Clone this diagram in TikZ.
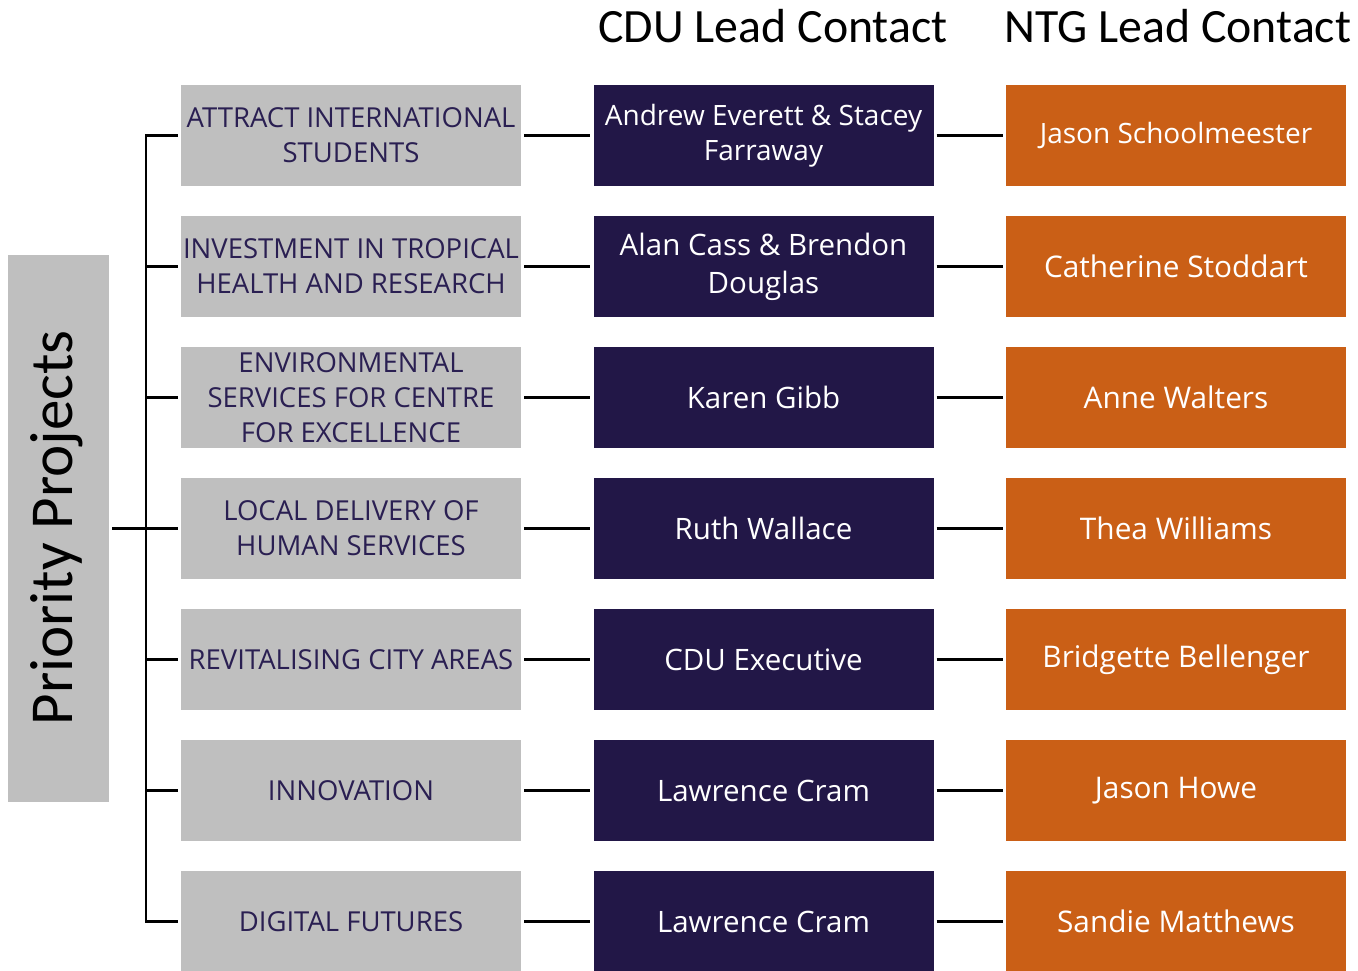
\documentclass[tikz,border=0pt]{standalone}
\usepackage{fontspec}
\setmainfont{Open Sans}
\newfontfamily\hdfont{Carlito}
\definecolor{boxgray}{HTML}{BFBFBF}
\definecolor{navy}{HTML}{221747}
\definecolor{navytext}{HTML}{2A1F52}
\definecolor{rust}{HTML}{CA5F16}
\tikzset{
  base/.style={rectangle, minimum width=340pt, minimum height=101pt, inner sep=0pt, align=center},
  graybox/.style={base, fill=boxgray, text=navytext, font=\fontsize{27.5}{35}\selectfont},
  navybox/.style={base, fill=navy, text=white, font=\fontsize{29.5}{38}\selectfont},
  rustbox/.style={base, fill=rust, text=white, font=\fontsize{29.8}{38}\selectfont},
  conn/.style={line width=2.6pt, black},
  header/.style={font=\hdfont\fontsize{47.8}{50}\selectfont, inner sep=0pt}
}
\begin{document}
\begin{tikzpicture}[x=1pt,y=-1pt]
\useasboundingbox (0,0) rectangle (1358,970);
% headers
\node[header] (hcdu) at (773,26) {CDU Lead Contact};
\node[header] (hntg) at (1178,26) {NTG Lead Contact};
% priority box
\node[rectangle, fill=boxgray, minimum width=101pt, minimum height=547pt, inner sep=0pt] (pp) at (58.5,528.5) {};
\node[rotate=90, font=\hdfont\fontsize{61}{66}\selectfont, inner sep=0pt] (pptext) at (57,528) {Priority Projects};
% rows
\node[graybox] (g1) at (351,135.5) {ATTRACT INTERNATIONAL\\STUDENTS};
\node[graybox] (g2) at (351,266.5) {INVESTMENT IN TROPICAL\\HEALTH AND RESEARCH};
\node[graybox] (g3) at (351,397.5) {ENVIRONMENTAL\\SERVICES FOR CENTRE\\FOR EXCELLENCE};
\node[graybox] (g4) at (351,528.5) {LOCAL DELIVERY OF\\HUMAN SERVICES};
\node[graybox] (g5) at (351,659.5) {REVITALISING CITY AREAS};
\node[graybox] (g6) at (351,790.5) {INNOVATION};
\node[graybox] (g7) at (351,921.5) {DIGITAL FUTURES};
\node[navybox, font=\fontsize{28}{35}\selectfont] (c1) at (763.5,135.5) {Andrew Everett \& Stacey\\Farraway};
\node[navybox] (c2) at (763.5,266.5) {Alan Cass \& Brendon\\Douglas};
\node[navybox] (c3) at (763.5,397.5) {Karen Gibb};
\node[navybox] (c4) at (763.5,528.5) {Ruth Wallace};
\node[navybox] (c5) at (763.5,659.5) {CDU Executive};
\node[navybox] (c6) at (763.5,790.5) {Lawrence Cram};
\node[navybox] (c7) at (763.5,921.5) {Lawrence Cram};
\node[rustbox, font=\fontsize{28}{35}\selectfont] (n1) at (1176,135.5) {Jason Schoolmeester};
\node[rustbox] (n2) at (1176,266.5) {Catherine Stoddart};
\node[rustbox] (n3) at (1176,397.5) {Anne Walters};
\node[rustbox] (n4) at (1176,528.5) {Thea Williams};
\node[rustbox] (n5) at (1176,659.5) {Bridgette Bellenger};
\node[rustbox] (n6) at (1176,790.5) {Jason Howe};
\node[rustbox] (n7) at (1176,921.5) {Sandie Matthews};
% bracket
\coordinate (btop) at (146,135.5);
\coordinate (bbot) at (146,921.5);
\draw[conn] ([xshift=-3pt]g1.west) -- (btop) -- (bbot) -- ([xshift=-3pt]g7.west);
\foreach \i in {2,...,6} {
  \draw[conn] ([xshift=-3pt]g\i.west) -- (btop |- g\i.west);
}
\draw[conn] ([xshift=3pt]pp.east) -- (btop |- pp.east);
\foreach \i in {1,...,7} {
  \draw[conn] ([xshift=3pt]g\i.east) -- ([xshift=-3pt]c\i.west);
  \draw[conn] ([xshift=3pt]c\i.east) -- ([xshift=-3pt]n\i.west);
}
\end{tikzpicture}
\end{document}
